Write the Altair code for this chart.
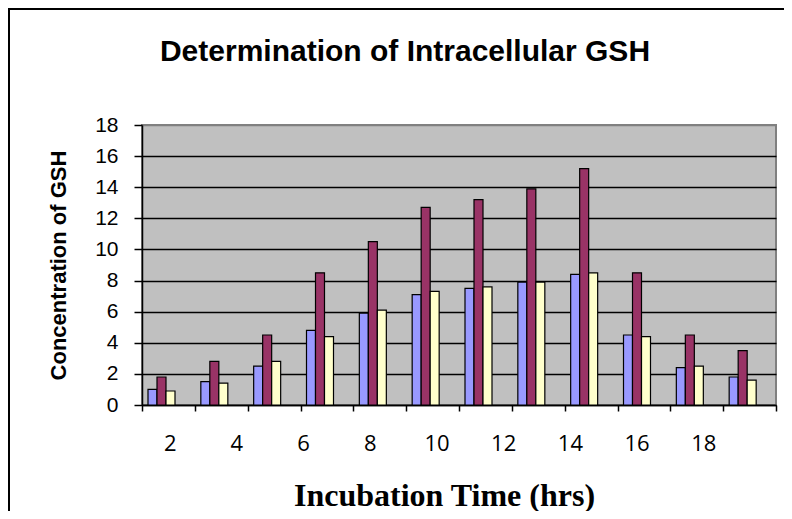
import altair as alt
import pandas as pd

# ---- data ----
groups = [1, 2, 3, 4, 5, 6, 7, 8, 9, 10, 11, 12]
series_names = ["Series1", "Series2", "Series3"]
series_colors = ["#9999FF", "#993366", "#FFFFCC"]
series1 = [1.0, 1.5, 2.5, 4.8, 5.9, 7.1, 7.5, 7.9, 8.4, 4.5, 2.4, 1.8]
series2 = [1.8, 2.8, 4.5, 8.5, 10.5, 12.7, 13.2, 13.9, 15.2, 8.5, 4.5, 3.5]
series3 = [0.9, 1.4, 2.8, 4.4, 6.1, 7.3, 7.6, 7.9, 8.5, 4.4, 2.5, 1.6]
x_labels = [2, 4, 6, 8, 10, 12, 14, 16, 18]
y_ticks = [0, 2, 4, 6, 8, 10, 12, 14, 16, 18]

rows = []
for name, vals in zip(series_names, [series1, series2, series3]):
    for g, v in zip(groups, vals):
        rows.append({"group": g, "series": name, "value": v})
df = pd.DataFrame(rows)

W, H = 634, 280

bars = alt.Chart(df).mark_bar(stroke="black", strokeWidth=1.2).encode(
    x=alt.X(
        "group:O", sort=groups,
        scale=alt.Scale(paddingInner=0, paddingOuter=0),
        axis=alt.Axis(orient="bottom", title=None, labels=False, tickBand="extent",
                      ticks=True, tickSize=6, tickColor="black", tickWidth=1.5,
                      domainColor="black", domainWidth=1.5, grid=False),
    ),
    xOffset=alt.XOffset("series:N", sort=series_names,
                        scale=alt.Scale(range=[6, 33], paddingInner=0, paddingOuter=0)),
    y=alt.Y(
        "value:Q", scale=alt.Scale(domain=[0, 18], nice=False),
        axis=alt.Axis(values=y_ticks, title="Concentration of GSH",
                      titleFont="Liberation Sans", titleFontSize=22, titleFontWeight="bold",
                      titleColor="black", titleX=-77, titleY=H / 2, titleAngle=270,
                      titleBaseline="alphabetic", titleAlign="center",
                      labelFont="Liberation Sans", labelFontSize=21, labelColor="black",
                      labelPadding=16, tickSize=8, tickColor="black", tickWidth=1.5,
                      domainColor="black", domainWidth=1.5,
                      grid=True, gridWidth=1.6,
                      gridColor={"condition": {"test": "datum.value == 18", "value": "#808080"},
                                 "value": "black"}),
    ),
    color=alt.Color("series:N", scale=alt.Scale(domain=series_names, range=series_colors),
                    legend=None),
)

lab_df = pd.DataFrame({"t": x_labels})
labels = alt.Chart(lab_df).mark_point(opacity=0).encode(
    x=alt.X(
        "t:Q", scale=alt.Scale(domain=[1.17, 20.18], nice=False, zero=False),
        axis=alt.Axis(orient="bottom", values=x_labels, ticks=False, tickSize=0, domain=False,
                      grid=False, labelFont="Open Sans", labelFontSize=22, labelColor="black",
                      labelPadding=28, labelOverlap=False, labelFlush=False,
                      title="Incubation Time (hrs)", titleFont="Liberation Serif",
                      titleFontSize=32, titleFontWeight="bold", titleColor="black",
                      titleX=302, titleY=100, titleBaseline="alphabetic", titleAlign="center"),
    ),
)

one = pd.DataFrame({"k": [0]})
frame_left = alt.Chart(one).mark_rule(color="black", strokeWidth=2).encode(
    x=alt.value(-133), y=alt.value(-117), y2=alt.value(400))
frame_top = alt.Chart(one).mark_rule(color="black", strokeWidth=2).encode(
    x=alt.value(-134), x2=alt.value(660), y=alt.value(-116))

chart = alt.layer(frame_left, frame_top, bars, labels).resolve_scale(
    x="independent"
).resolve_axis(x="independent").properties(
    width=W, height=H,
    autosize="none",
    padding={"left": 134, "top": 117, "right": 8, "bottom": 106},
    title=alt.TitleParams("Determination of Intracellular GSH", font="Liberation Sans",
                          fontSize=30, fontWeight="bold", color="black",
                          anchor="middle", frame="group", dx=-54, offset=-84,
                          baseline="alphabetic"),
).configure_view(fill="#C0C0C0", stroke="#808080", strokeWidth=2)

chart.save("out.html", embed_options={"renderer": "svg", "actions": False})
